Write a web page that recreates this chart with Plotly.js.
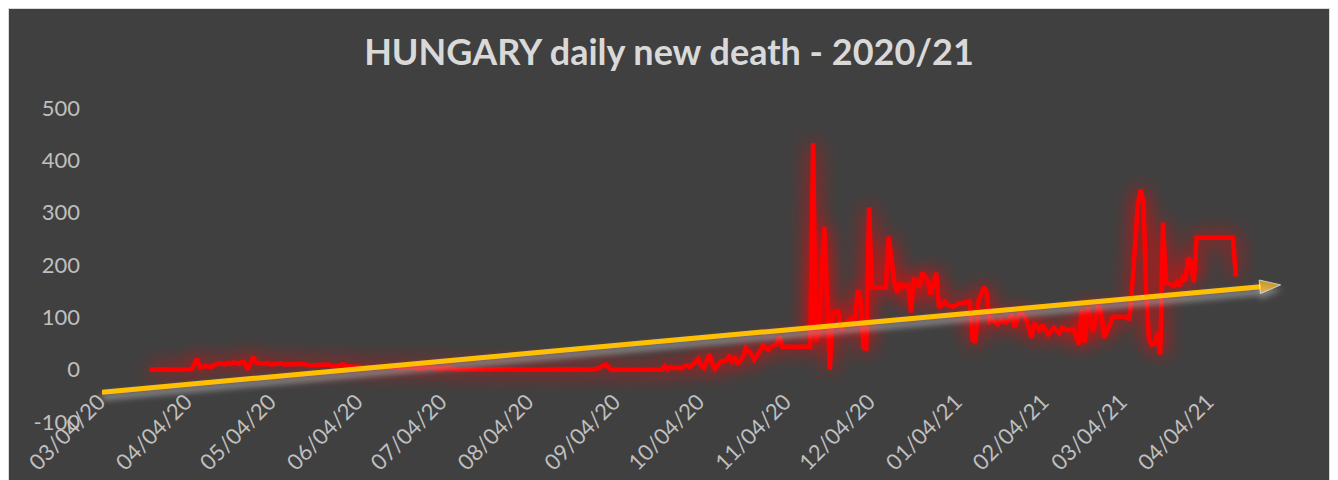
<!DOCTYPE html>
<html><head><meta charset="utf-8">
<script src="https://cdn.plot.ly/plotly-3.0.1.min.js"></script>
<style>
html,body{margin:0;padding:0;background:#ffffff;width:1338px;height:480px;overflow:hidden}
#frame{position:absolute;left:8px;top:8px;width:1320px;height:472px;border:1px solid #d9d9d9;border-bottom:none;overflow:hidden;background:#404040}
#chart{width:1320px;height:472px}
</style></head><body><div id="frame"><div id="chart"></div></div>
<script>
// ---- data ----
const deathDates = [
 '2020-03-21','2020-03-25','2020-03-30','2020-04-05','2020-04-07','2020-04-08','2020-04-10','2020-04-12','2020-04-13','2020-04-15',
 '2020-04-17','2020-04-18','2020-04-19','2020-04-20','2020-04-22','2020-04-23','2020-04-24','2020-04-25','2020-04-26','2020-04-27',
 '2020-04-28','2020-04-30','2020-05-02','2020-05-03','2020-05-05','2020-05-07','2020-05-08','2020-05-10','2020-05-12','2020-05-15',
 '2020-05-17','2020-05-19','2020-05-21','2020-05-24','2020-05-25','2020-05-27','2020-05-29','2020-05-31','2020-06-01','2020-06-02',
 '2020-06-04','2020-06-06','2020-06-07','2020-06-10','2020-06-12','2020-06-15','2020-06-19','2020-06-22','2020-06-26','2020-06-29',
 '2020-07-03','2020-07-06','2020-07-09','2020-07-14','2020-07-17','2020-07-24','2020-07-31','2020-08-08','2020-08-15','2020-08-20',
 '2020-08-26','2020-08-28','2020-08-30','2020-08-31','2020-09-01','2020-09-02','2020-09-09','2020-09-16','2020-09-20','2020-09-21',
 '2020-09-22','2020-09-23','2020-09-24','2020-09-25','2020-09-27','2020-09-28','2020-09-29','2020-09-30','2020-10-01','2020-10-02',
 '2020-10-03','2020-10-04','2020-10-05','2020-10-07','2020-10-08','2020-10-09','2020-10-11','2020-10-13','2020-10-14','2020-10-15',
 '2020-10-16','2020-10-17','2020-10-19','2020-10-20','2020-10-22','2020-10-23','2020-10-25','2020-10-26','2020-10-28','2020-10-29',
 '2020-10-31','2020-11-01','2020-11-02','2020-11-12','2020-11-13','2020-11-14','2020-11-15','2020-11-17','2020-11-19','2020-11-20',
 '2020-11-22','2020-11-23','2020-11-25','2020-11-27','2020-11-28','2020-11-29','2020-11-30','2020-12-01','2020-12-02','2020-12-03',
 '2020-12-04','2020-12-09','2020-12-10','2020-12-12','2020-12-13','2020-12-14','2020-12-15','2020-12-17','2020-12-18','2020-12-19',
 '2020-12-20','2020-12-21','2020-12-22','2020-12-24','2020-12-25','2020-12-27','2020-12-28','2020-12-30','2020-12-31','2021-01-02',
 '2021-01-04','2021-01-06','2021-01-08','2021-01-09','2021-01-10','2021-01-11','2021-01-13','2021-01-14','2021-01-15','2021-01-16',
 '2021-01-18','2021-01-19','2021-01-21','2021-01-23','2021-01-24','2021-01-26','2021-01-28','2021-01-30','2021-01-31','2021-02-02',
 '2021-02-03','2021-02-05','2021-02-07','2021-02-09','2021-02-10','2021-02-12','2021-02-14','2021-02-16','2021-02-17','2021-02-18',
 '2021-02-19','2021-02-21','2021-02-23','2021-02-24','2021-02-25','2021-02-27','2021-02-28','2021-03-05','2021-03-06','2021-03-07',
 '2021-03-09','2021-03-10','2021-03-11','2021-03-12','2021-03-13','2021-03-14','2021-03-15','2021-03-16','2021-03-17','2021-03-18',
 '2021-03-19','2021-03-20','2021-03-22','2021-03-23','2021-03-24','2021-03-25','2021-03-26','2021-03-27','2021-03-28','2021-03-29',
 '2021-03-30','2021-04-12','2021-04-13'
];
const deathValues = [
 0,1,0,1,21,4,7,5,9,12,
 10,13,11,14,11,15,13,0,12,24,
 14,11,13,10,11,12,10,10,12,11,
 8,9,8,10,7,7,10,6,7,5,
 6,3,5,4,3,5,3,4,2,4,
 2,3,0,1,0,1,0,0,1,0,
 0,2,7,10,4,0,0,1,0,7,
 0,5,3,4,2,6,8,5,9,15,
 21,8,4,29,12,2,15,18,25,16,
 25,10,25,41,29,19,35,46,38,44,
 48,63,44,44,433,53,70,273,0,109,
 111,76,92,99,96,153,134,42,40,310,
 157,157,254,168,147,166,158,162,109,172,
 170,157,185,170,143,185,118,130,124,120,
 126,128,130,57,52,130,158,147,92,95,
 86,95,90,105,82,111,98,61,90,73,
 86,67,80,70,80,75,77,48,115,52,
 120,73,124,105,61,86,101,101,95,160,
 315,344,320,147,57,48,50,70,29,281,
 166,165,160,168,160,176,170,214,205,167,
 252,252,178
];
const trendDates = ['2020-03-04','2021-04-29'];
const trendValues = [-43, 162];
const xTickDates = ['2020-03-04','2020-04-04','2020-05-04','2020-06-04','2020-07-04','2020-08-04','2020-09-04',
 '2020-10-04','2020-11-04','2020-12-04','2021-01-04','2021-02-04','2021-03-04','2021-04-04'];
const xTickLabels = ['03/04/20','04/04/20','05/04/20','06/04/20','07/04/20','08/04/20','09/04/20',
 '10/04/20','11/04/20','12/04/20','01/04/21','02/04/21','03/04/21','04/04/21'];
const yTicks = [-100,0,100,200,300,400,500];
const yTickLabels = ['-100','0','100','200','300','400','500'];
const yGridVals = [0,100,200,300,400,500];

// ---- chart ----
const FONT = 'Lato, "Open Sans", sans-serif';
const traces = [
  {x: deathDates, y: deathValues, type:'scatter', mode:'lines',
   line:{color:'#ff0000', width:4.5}, hoverinfo:'skip'},
  {x: trendDates, y: trendValues, type:'scatter', mode:'lines+markers', cliponaxis:false,
   line:{color:'#ffc000', width:5},
   marker:{symbol:['circle','arrow'], size:[0,22], angleref:'previous', color:'#ffc000'}, hoverinfo:'skip'}
];
const layout = {
  width:1320, height:471,
  paper_bgcolor:'#404040', plot_bgcolor:'#404040',
  margin:{l:93, r:47, t:99, b:58},
  showlegend:false,
  title:{text:'HUNGARY daily new death - 2020/21',
    font:{family:FONT, size:36, color:'#d9d9d9', weight:'bold'},
    x:0.5, xref:'container', xanchor:'center', y:0.907, yref:'container', yanchor:'middle'},
  xaxis:{type:'date', range:['2020-03-04','2021-04-29 12:00'], tickmode:'array',
    tickvals:xTickDates, ticktext:xTickLabels, tickangle:-45,
    showgrid:false, zeroline:false, showline:false, ticks:'',
    anchor:'free', position:1/6, ticklabelstandoff:14, ticklabelshift:-3,
    tickfont:{family:FONT, size:22, color:'#bfbfbf'}, automargin:false},
  yaxis:{range:[-100,500], tickmode:'array', tickvals:yTicks, ticktext:yTickLabels,
    showgrid:false, zeroline:false, showline:false, ticks:'', ticklabelstandoff:21,
    tickfont:{family:FONT, size:22, color:'#bfbfbf'}, automargin:false},
  yaxis2:{overlaying:'y', range:[-100,500], tickmode:'array', tickvals:yGridVals,
    showticklabels:false, showgrid:true, gridcolor:'#5a5a5a', gridwidth:1.3,
    zeroline:false, showline:false, ticks:''}
};

Plotly.newPlot('chart', traces, layout, {staticPlot:true}).then(function(gd){
  const ns = 'http://www.w3.org/2000/svg';
  const svg = gd.querySelector('svg.main-svg');
  let defs = svg.querySelector('defs');
  if(!defs){ defs = document.createElementNS(ns,'defs'); svg.insertBefore(defs, svg.firstChild); }
  function el(tag, attrs, parent){
    const e = document.createElementNS(ns, tag);
    for(const k in attrs) e.setAttribute(k, attrs[k]);
    parent.appendChild(e); return e;
  }
  const f1 = el('filter', {id:'glowRed', filterUnits:'userSpaceOnUse', x:-200, y:-200, width:1700, height:800}, defs);
  el('feGaussianBlur', {in:'SourceGraphic', stdDeviation:10, result:'b'}, f1);
  const ct = el('feComponentTransfer', {in:'b', result:'b2'}, f1);
  el('feFuncA', {type:'linear', slope:1.2}, ct);
  const m1 = el('feMerge', {}, f1);
  el('feMergeNode', {in:'b2'}, m1);
  el('feMergeNode', {in:'SourceGraphic'}, m1);

  const f2 = el('filter', {id:'shadowY', filterUnits:'userSpaceOnUse', x:-200, y:-200, width:1700, height:800}, defs);
  el('feGaussianBlur', {in:'SourceAlpha', stdDeviation:3, result:'a'}, f2);
  el('feOffset', {in:'a', dx:0, dy:5, result:'o'}, f2);
  el('feFlood', {'flood-color':'#b8b8b8', 'flood-opacity':0.75, result:'fl'}, f2);
  el('feComposite', {in:'fl', in2:'o', operator:'in', result:'s'}, f2);
  const m2 = el('feMerge', {}, f2);
  el('feMergeNode', {in:'s'}, m2);
  el('feMergeNode', {in:'SourceGraphic'}, m2);

  const tr = gd.querySelectorAll('.scatterlayer .trace');
  if(tr[0]) tr[0].setAttribute('filter','url(#glowRed)');
  if(tr[1]) tr[1].setAttribute('filter','url(#shadowY)');
});
</script>
</body></html>
